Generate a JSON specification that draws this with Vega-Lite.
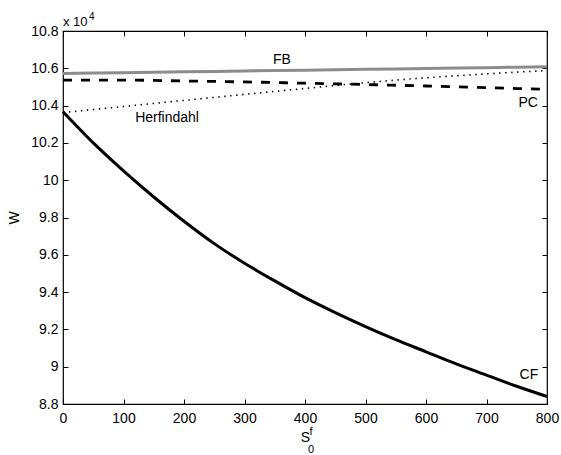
{
  "$schema": "https://vega.github.io/schema/vega-lite/v6.json",
  "width": 484,
  "height": 373,
  "autosize": {"type": "none"},
  "padding": {"left": 63, "top": 31, "right": 14, "bottom": 51},
  "background": "white",
  "config": {
    "view": {"stroke": "black", "strokeWidth": 1.2},
    "font": "Liberation Sans",
    "axis": {"grid": false, "domain": false, "tickColor": "black", "tickWidth": 1, "tickSize": -5, "labelFont": "Liberation Sans", "labelFontSize": 14, "labelColor": "black", "titleFont": "Liberation Sans", "titleFontSize": 14, "titleFontWeight": "normal", "titleColor": "black", "labelFlush": false, "labelOverlap": false}
  },
  "datasets": {
    "curves": [
      {"series": "FB", "x": 0, "W": 105720},
      {"series": "FB", "x": 100, "W": 105765},
      {"series": "FB", "x": 200, "W": 105810},
      {"series": "FB", "x": 300, "W": 105855},
      {"series": "FB", "x": 400, "W": 105900},
      {"series": "FB", "x": 500, "W": 105945},
      {"series": "FB", "x": 600, "W": 105990},
      {"series": "FB", "x": 700, "W": 106035},
      {"series": "FB", "x": 800, "W": 106080},
      {"series": "PC", "x": 0, "W": 105370},
      {"series": "PC", "x": 100, "W": 105370},
      {"series": "PC", "x": 200, "W": 105320},
      {"series": "PC", "x": 300, "W": 105270},
      {"series": "PC", "x": 400, "W": 105200},
      {"series": "PC", "x": 500, "W": 105130},
      {"series": "PC", "x": 600, "W": 105050},
      {"series": "PC", "x": 700, "W": 104960},
      {"series": "PC", "x": 800, "W": 104870},
      {"series": "Herfindahl", "x": 0, "W": 103630},
      {"series": "Herfindahl", "x": 100, "W": 103950},
      {"series": "Herfindahl", "x": 200, "W": 104280},
      {"series": "Herfindahl", "x": 300, "W": 104600},
      {"series": "Herfindahl", "x": 400, "W": 104920},
      {"series": "Herfindahl", "x": 500, "W": 105230},
      {"series": "Herfindahl", "x": 600, "W": 105490},
      {"series": "Herfindahl", "x": 700, "W": 105700},
      {"series": "Herfindahl", "x": 800, "W": 105880},
      {"series": "CF", "x": 0, "W": 103670},
      {"series": "CF", "x": 50, "W": 102000},
      {"series": "CF", "x": 100, "W": 100500},
      {"series": "CF", "x": 150, "W": 99100},
      {"series": "CF", "x": 200, "W": 97800},
      {"series": "CF", "x": 250, "W": 96600},
      {"series": "CF", "x": 300, "W": 95550},
      {"series": "CF", "x": 350, "W": 94600},
      {"series": "CF", "x": 400, "W": 93700},
      {"series": "CF", "x": 450, "W": 92900},
      {"series": "CF", "x": 500, "W": 92150},
      {"series": "CF", "x": 550, "W": 91450},
      {"series": "CF", "x": 600, "W": 90800},
      {"series": "CF", "x": 650, "W": 90150},
      {"series": "CF", "x": 700, "W": 89550},
      {"series": "CF", "x": 750, "W": 88950},
      {"series": "CF", "x": 800, "W": 88400}
    ],
    "labels": [
      {"label": "FB", "x": 362, "W": 106445},
      {"label": "Herfindahl", "x": 172, "W": 103340},
      {"label": "PC", "x": 769, "W": 104140},
      {"label": "CF", "x": 770, "W": 89550}
    ],
    "sup": [{"label": "f", "x": 410, "W": 88000}],
    "sub": [{"label": "0", "x": 410, "W": 88000}],
    "mult": [{"label": "x 10", "x": 0, "W": 108000}],
    "expo": [{"label": "4", "x": 0, "W": 108000}]
  },
  "layer": [
    {
      "data": {"name": "curves"},
      "transform": [{"filter": "datum.series === 'FB'"}],
      "mark": {"type": "line", "color": "#8c8c8c", "strokeWidth": 3, "interpolate": "monotone"},
      "encoding": {
        "x": {"field": "x", "type": "quantitative", "scale": {"domain": [0, 800], "nice": false, "zero": false},
              "axis": {"orient": "bottom", "title": "S", "values": [0, 100, 200, 300, 400, 500, 600, 700, 800], "labelPadding": 12, "titlePadding": 5}},
        "y": {"field": "W", "type": "quantitative", "scale": {"domain": [88000, 108000], "nice": false, "zero": false},
              "axis": {"orient": "left", "title": "W", "values": [88000, 90000, 92000, 94000, 96000, 98000, 100000, 102000, 104000, 106000, 108000], "labelExpr": "format(datum.value / 10000, '.3~g')", "labelPadding": 10, "titlePadding": 9}}
      }
    },
    {
      "data": {"name": "curves"},
      "transform": [{"filter": "datum.series === 'PC'"}],
      "mark": {"type": "line", "color": "black", "strokeWidth": 2.8, "strokeDash": [9, 9], "interpolate": "monotone"},
      "encoding": {
        "x": {"field": "x", "type": "quantitative",
              "axis": {"orient": "top", "title": null, "labels": false, "values": [0, 100, 200, 300, 400, 500, 600, 700, 800]}},
        "y": {"field": "W", "type": "quantitative",
              "axis": {"orient": "right", "title": null, "labels": false, "values": [88000, 90000, 92000, 94000, 96000, 98000, 100000, 102000, 104000, 106000, 108000]}}
      }
    },
    {
      "data": {"name": "curves"},
      "transform": [{"filter": "datum.series === 'Herfindahl'"}],
      "mark": {"type": "line", "color": "black", "strokeWidth": 1.6, "strokeDash": [1.4, 4.6], "interpolate": "monotone"},
      "encoding": {
        "x": {"field": "x", "type": "quantitative", "axis": null},
        "y": {"field": "W", "type": "quantitative", "axis": null}
      }
    },
    {
      "data": {"name": "curves"},
      "transform": [{"filter": "datum.series === 'CF'"}],
      "mark": {"type": "line", "color": "black", "strokeWidth": 3, "interpolate": "monotone"},
      "encoding": {
        "x": {"field": "x", "type": "quantitative", "axis": null},
        "y": {"field": "W", "type": "quantitative", "axis": null}
      }
    },
    {
      "data": {"name": "labels"},
      "mark": {"type": "text", "font": "Liberation Sans", "fontSize": 14, "color": "black", "align": "center", "baseline": "middle"},
      "encoding": {
        "x": {"field": "x", "type": "quantitative", "axis": null},
        "y": {"field": "W", "type": "quantitative", "axis": null},
        "text": {"field": "label"}
      }
    },
    {
      "data": {"name": "sup"},
      "mark": {"type": "text", "font": "Liberation Sans", "fontSize": 11, "color": "black", "align": "center", "baseline": "middle", "dy": 28},
      "encoding": {
        "x": {"field": "x", "type": "quantitative", "axis": null},
        "y": {"field": "W", "type": "quantitative", "axis": null},
        "text": {"field": "label"}
      }
    },
    {
      "data": {"name": "sub"},
      "mark": {"type": "text", "font": "Liberation Sans", "fontSize": 11, "color": "black", "align": "center", "baseline": "middle", "dy": 46},
      "encoding": {
        "x": {"field": "x", "type": "quantitative", "axis": null},
        "y": {"field": "W", "type": "quantitative", "axis": null},
        "text": {"field": "label"}
      }
    },
    {
      "data": {"name": "mult"},
      "mark": {"type": "text", "font": "Liberation Sans", "fontSize": 13, "color": "black", "align": "left", "baseline": "alphabetic", "dy": -5},
      "encoding": {
        "x": {"field": "x", "type": "quantitative", "axis": null},
        "y": {"field": "W", "type": "quantitative", "axis": null},
        "text": {"field": "label"}
      }
    },
    {
      "data": {"name": "expo"},
      "mark": {"type": "text", "font": "Liberation Sans", "fontSize": 10, "color": "black", "align": "left", "baseline": "alphabetic", "dx": 26, "dy": -11},
      "encoding": {
        "x": {"field": "x", "type": "quantitative", "axis": null},
        "y": {"field": "W", "type": "quantitative", "axis": null},
        "text": {"field": "label"}
      }
    }
  ]
}
